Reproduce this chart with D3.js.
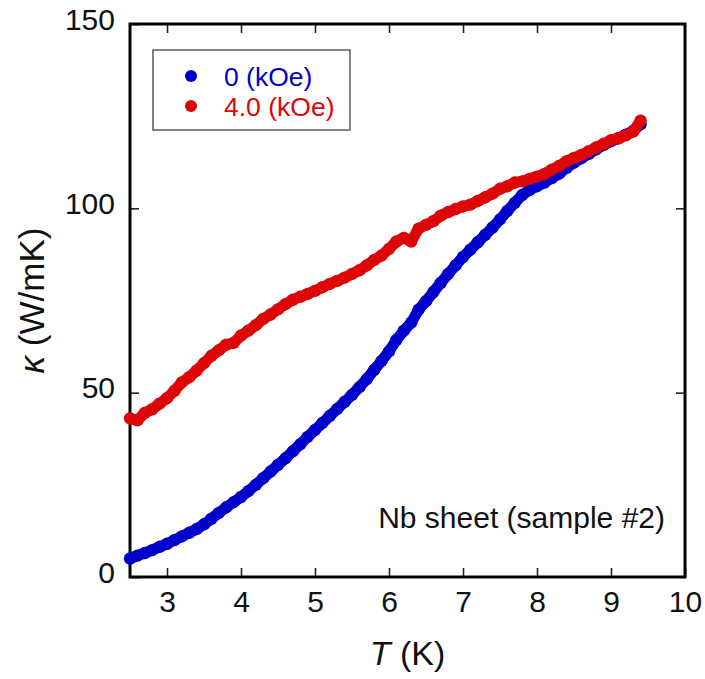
<!DOCTYPE html>
<html>
<head>
<meta charset="utf-8">
<script src="https://cdn.jsdelivr.net/npm/d3@7"></script>
<style>
  html, body { margin: 0; padding: 0; background: #fff; }
  svg { display: block; }
  text { font-family: "Liberation Sans", Arial, sans-serif; }
</style>
</head>
<body>
<svg id="chart" width="705" height="679"></svg>
<script>
// ---- Data ----
const temperatures = [
  2.5, 2.6, 2.7, 2.8, 2.9, 3.0, 3.1, 3.2, 3.3, 3.4,
  3.5, 3.6, 3.7, 3.8, 3.9, 4.0, 4.1, 4.2, 4.3, 4.4,
  4.5, 4.6, 4.7, 4.8, 4.9, 5.0, 5.1, 5.2, 5.3, 5.4,
  5.5, 5.6, 5.7, 5.8, 5.9, 6.0, 6.1, 6.2, 6.3, 6.4,
  6.5, 6.6, 6.7, 6.8, 6.9, 7.0, 7.1, 7.2, 7.3, 7.4,
  7.5, 7.6, 7.7, 7.8, 7.9, 8.0, 8.1, 8.2, 8.3, 8.4,
  8.5, 8.6, 8.7, 8.8, 8.9, 9.0, 9.1, 9.2, 9.3, 9.4
];
const kappa0kOe = [
  5.0, 5.8, 6.5, 7.3, 8.2, 9.0, 10.0, 11.0, 12.0, 13.0,
  14.3, 15.8, 17.4, 18.9, 20.3, 21.7, 23.3, 25.0, 26.8, 28.6,
  30.4, 32.2, 34.1, 36.0, 38.0, 39.9, 41.8, 43.7, 45.6, 47.5,
  49.4, 51.5, 53.7, 56.2, 58.6, 61.2, 64.3, 66.8, 69.0, 72.5,
  74.8, 77.3, 79.8, 82.2, 84.5, 86.8, 88.8, 90.8, 92.8, 94.8,
  97.0, 99.3, 101.5, 103.6, 105.0, 106.0, 107.0, 108.2, 109.4, 111.0,
  112.4, 113.6, 114.8, 116.0, 117.2, 118.2, 119.0, 120.0, 121.0, 122.8
];
const kappa4kOe = [
  43.0, 42.5, 44.5, 45.5, 47.0, 48.5, 50.5, 52.8, 54.2, 56.0,
  58.0, 60.0, 61.5, 63.0, 63.5, 65.5, 66.8, 68.3, 70.0, 71.2,
  72.6, 74.0, 75.2, 76.0, 76.8, 77.6, 78.6, 79.5, 80.3, 81.2,
  82.2, 83.2, 84.5, 86.0, 87.2, 89.0, 91.0, 92.0, 91.0, 94.5,
  95.5, 96.5, 98.0, 99.0, 99.8, 100.5, 101.0, 102.0, 103.0, 104.0,
  105.3, 106.0, 107.0, 107.3, 108.0, 108.6, 109.3, 110.5, 111.5, 112.8,
  113.7, 114.5, 115.5, 116.5, 117.5, 118.5, 119.0, 119.8, 120.8, 123.8
];
const seriesNames = ["0 (kOe)", "4.0 (kOe)"];
const seriesColors = ["#0000cc", "#dd0505"];
const xTicks = [3, 4, 5, 6, 7, 8, 9, 10];
const yTicks = [0, 50, 100, 150];
const xDomain = [2.5, 10];
const yDomain = [0, 150];
const annotation = "Nb sheet (sample #2)";

// ---- Layout ----
const svg = d3.select("#chart");
const L = 130, R = 685, T = 24, B = 577;
const x = d3.scaleLinear().domain(xDomain).range([L, R]);
const y = d3.scaleLinear().domain(yDomain).range([B, T]);

// Axes with inward ticks (bottom/top/left/right)
const tickLen = 9;
const axisBottom = d3.axisBottom(x).tickValues(xTicks).tickSizeInner(-tickLen).tickSizeOuter(0).tickPadding(0).tickFormat(d3.format("d"));
const axisTop = d3.axisTop(x).tickValues(xTicks.filter(v => v < 10)).tickSizeInner(-tickLen).tickSizeOuter(0).tickFormat("");
const axisLeft = d3.axisLeft(y).tickValues(yTicks).tickSizeInner(-tickLen).tickSizeOuter(0).tickPadding(0).tickFormat(d3.format("d"));
const axisRight = d3.axisRight(y).tickValues(yTicks.filter(v => v > 0 && v < 150)).tickSizeInner(-tickLen).tickSizeOuter(0).tickFormat("");

function styleAxis(g) {
  g.select(".domain").remove();
  g.selectAll(".tick line").attr("stroke", "#222").attr("stroke-width", 1.6);
}

const gB = svg.append("g").attr("transform", `translate(0,${B})`).call(axisBottom).call(styleAxis);
gB.selectAll(".tick text").attr("font-size", 30).attr("fill", "#111")
  .attr("dy", null).attr("y", 35);
svg.append("g").attr("transform", `translate(0,${T})`).call(axisTop).call(styleAxis);
const gL = svg.append("g").attr("transform", `translate(${L},0)`).call(axisLeft).call(styleAxis);
gL.selectAll(".tick text").attr("font-size", 30).attr("fill", "#111")
  .attr("dy", null).attr("x", -15).attr("y", 5);
svg.append("g").attr("transform", `translate(${R},0)`).call(axisRight).call(styleAxis);

// Frame
svg.append("rect").attr("x", L).attr("y", T).attr("width", R - L).attr("height", B - T)
  .attr("fill", "none").attr("stroke", "#000").attr("stroke-width", 3);

// Data
const seriesData = [kappa0kOe, kappa4kOe];
const line = d3.line().x(d => x(d[0])).y(d => y(d[1]));
seriesData.forEach((vals, i) => {
  const pts = temperatures.map((t, j) => [t, vals[j]]);
  const g = svg.append("g");
  g.append("path").datum(pts).attr("d", line)
    .attr("fill", "none").attr("stroke", seriesColors[i]).attr("stroke-width", 11)
    .attr("stroke-linejoin", "round").attr("stroke-linecap", "round");
  g.selectAll("circle").data(pts).join("circle")
    .attr("cx", d => x(d[0])).attr("cy", d => y(d[1])).attr("r", 6.2)
    .attr("fill", seriesColors[i]);
});

// Legend
const lg = svg.append("g");
lg.append("rect").attr("x", 153).attr("y", 50).attr("width", 197).attr("height", 80)
  .attr("fill", "#fff").attr("stroke", "#333").attr("stroke-width", 1.2);
seriesNames.forEach((name, i) => {
  const cy = 76 + i * 30;
  lg.append("circle").attr("cx", 191).attr("cy", cy).attr("r", 6).attr("fill", seriesColors[i]);
  lg.append("text").attr("x", 224).attr("y", cy + 10).attr("font-size", 26.5)
    .attr("fill", seriesColors[i]).text(name);
});

// Annotation
svg.append("text").attr("x", 665).attr("y", 528).attr("text-anchor", "end")
  .attr("font-size", 30).attr("fill", "#111").text(annotation);

// Axis titles
const xt = svg.append("text").attr("x", (L + R) / 2).attr("y", 665).attr("text-anchor", "middle")
  .attr("font-size", 34).attr("fill", "#111");
xt.append("tspan").attr("font-style", "italic").text("T");
xt.append("tspan").text(" (K)");

const yt = svg.append("text").attr("transform", `translate(44,${(T + B) / 2}) rotate(-90)`)
  .attr("text-anchor", "middle").attr("font-size", 35).attr("fill", "#111");
yt.append("tspan").attr("font-style", "italic").text("κ");
yt.append("tspan").text(" (W/mK)");
</script>
</body>
</html>
